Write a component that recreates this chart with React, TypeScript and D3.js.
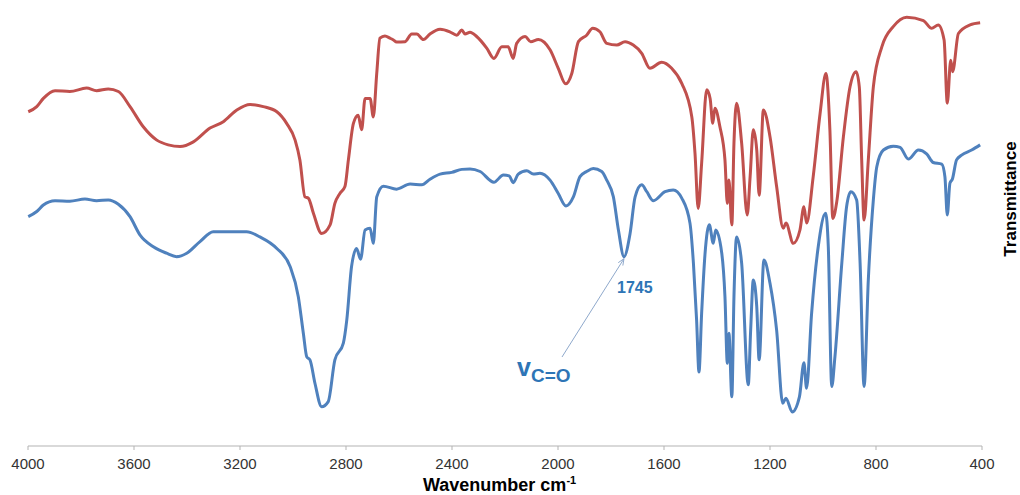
import React from "react";
import * as d3 from "d3";

const redWn = [3999,3967,3942,3898,3842,3779,3741,3697,3659,3615,3565,3514,3471,3426,3376,3313,3263,3212,3162,3112,3061,3024,2992,2974,2955,2942,2923,2892,2860,2842,2823,2804,2791,2772,2754,2741,2728,2709,2697,2684,2672,2653,2634,2621,2609,2577,2552,2533,2508,2483,2445,2408,2382,2363,2351,2332,2307,2269,2242,2212,2188,2169,2156,2124,2103,2074,2030,1999,1971,1948,1923,1892,1869,1842,1816,1778,1747,1716,1684,1653,1609,1571,1533,1495,1483,1471,1458,1439,1426,1416,1408,1389,1370,1361,1355,1344,1336,1326,1307,1286,1275,1263,1250,1241,1225,1200,1175,1150,1140,1112,1087,1072,1062,1037,1011,989,974,963,948,923,898,875,863,854,845,829,810,778,735,684,621,590,565,543,531,518,511,489,445,407];
const redT = [77.5,78.7,80.6,82.4,82.2,83.0,82.4,82.8,82.2,78.7,74.0,70.9,69.8,69.4,70.5,73.7,75.2,77.9,79.2,78.7,77.5,74.8,70.9,66.3,57.7,57.4,53.9,49.2,51.2,56.2,58.5,60.1,66.3,74.8,76.7,73.3,80.6,80.6,76.3,86.4,94.6,95.1,94.6,94.2,93.7,93.8,95.6,95.6,94.3,95.6,96.7,96.1,95.3,96.5,95.6,96.0,95.0,92.3,89.9,92.6,92.6,89.9,93.4,95.0,93.8,94.3,91.9,87.6,84.0,86.4,93.8,95.3,96.9,96.1,93.4,93.0,93.8,93.0,91.1,87.6,89.0,87.6,84.1,76.3,67.8,55.0,65.5,82.6,80.6,74.8,78.3,74.0,66.3,56.2,61.6,51.2,70.2,79.5,70.2,53.5,62.4,73.3,68.6,58.1,77.9,71.7,60.1,50.4,51.6,46.9,50.0,55.4,51.6,62.4,77.1,86.4,73.3,52.7,56.6,71.7,83.3,86.8,83.3,66.3,52.3,66.3,83.3,92.6,97.3,99.5,98.7,96.9,97.7,94.2,79.5,89.5,86.8,95.7,97.7,98.2];

const blueWn = [3999,3967,3942,3898,3842,3785,3741,3697,3659,3615,3577,3527,3477,3439,3401,3351,3301,3250,3175,3125,3061,3011,2980,2961,2948,2936,2917,2892,2867,2842,2810,2797,2779,2760,2745,2728,2709,2697,2684,2659,2609,2558,2514,2483,2445,2401,2363,2332,2294,2242,2206,2184,2169,2150,2118,2093,2068,2030,1999,1970,1942,1917,1892,1867,1835,1816,1791,1772,1751,1728,1709,1684,1665,1640,1596,1565,1533,1502,1489,1477,1468,1458,1445,1429,1414,1405,1382,1370,1361,1355,1344,1336,1326,1307,1282,1273,1263,1250,1241,1223,1200,1175,1152,1140,1116,1089,1072,1062,1043,1018,990,980,967,955,929,911,895,873,860,845,829,810,797,772,735,709,678,640,609,584,552,540,531,521,512,496,477,439,407];
const blueT = [53.1,54.3,55.8,56.8,56.7,57.2,56.8,57.0,56.0,53.1,48.8,46.1,44.6,43.8,44.6,47.3,49.6,49.6,49.6,48.4,45.7,41.5,34.5,26.0,20.5,19.8,14.3,8.9,10.1,19.8,23.7,29.1,41.5,45.7,43.2,50.0,50.4,46.9,57.7,60.2,59.5,60.7,60.5,61.8,63.0,63.4,64.1,64.2,63.6,61.1,62.8,62.6,61.0,63.0,63.8,63.0,63.2,61.6,58.5,55.6,57.7,62.4,63.6,64.3,63.6,61.6,57.7,50.0,43.8,49.2,57.7,60.5,58.9,56.8,58.9,59.3,57.4,51.6,42.3,29.1,17.0,30.6,44.6,51.2,46.9,50.0,44.6,34.5,19.0,26.0,11.2,34.5,48.4,42.3,14.0,26.7,38.4,32.2,19.8,43.0,37.6,26.7,9.7,10.9,7.7,11.2,19.1,13.2,30.6,46.1,53.9,46.1,13.6,20.5,42.3,55.4,58.9,57.0,42.3,13.6,38.4,57.0,64.7,68.6,69.5,69.2,66.5,68.6,67.7,65.7,65.3,62.4,53.5,60.9,61.8,66.3,67.4,68.6,69.8];

const xTicks = [4000, 3600, 3200, 2800, 2400, 2000, 1600, 1200, 800, 400];

const W = 1020;
const H = 495;
const FONT = "'Liberation Sans', Arial, sans-serif";

export default function App() {
  const x = d3.scaleLinear().domain([4000, 400]).range([28, 982]);
  const y = d3.scaleLinear().domain([0, 100]).range([445, 15]);
  const line = d3
    .line<[number, number]>()
    .x((d) => x(d[0]))
    .y((d) => y(d[1]))
    .curve(d3.curveMonotoneX);
  const redPts = redWn.map((w, i) => [w, redT[i]] as [number, number]);
  const bluePts = blueWn.map((w, i) => [w, blueT[i]] as [number, number]);
  const axisY = 446;

  // annotation anchor at 1745 peak
  const ax = x(1751);
  const ay = y(43.8) + 2;
  const sx = 562;
  const sy = 357;
  const ang = Math.atan2(ay - sy, ax - sx);
  const ah = 7;
  const a1 = [ax - ah * Math.cos(ang - 0.4), ay - ah * Math.sin(ang - 0.4)];
  const a2 = [ax - ah * Math.cos(ang + 0.4), ay - ah * Math.sin(ang + 0.4)];

  return (
    <svg
      width={W}
      height={H}
      style={{ position: "absolute", left: 0, top: 0, background: "#fff" }}
      fontFamily={FONT}
    >
      <rect x={0} y={0} width={W} height={H} fill="#fff" />
      <line x1={x(4000)} x2={x(400)} y1={axisY} y2={axisY} stroke="#b3b3b3" strokeWidth={1} />
      {xTicks.map((t) => (
        <g key={t}>
          <line x1={x(t)} x2={x(t)} y1={axisY} y2={axisY + 4} stroke="#b3b3b3" strokeWidth={1} />
          <text x={x(t)} y={469} textAnchor="middle" fontSize={15} fill="#333">
            {t}
          </text>
        </g>
      ))}
      <text x={423} y={491} fontSize={18} fontWeight="bold" fill="#000">
        Wavenumber cm
        <tspan fontSize={11} dy={-7}>-1</tspan>
      </text>
      <text
        transform={`translate(1016, 199) rotate(-90)`}
        textAnchor="middle"
        fontSize={17}
        fontWeight="bold"
        fill="#000"
      >
        Transmittance
      </text>
      <path d={line(redPts) || ""} fill="none" stroke="#c0504d" strokeWidth={3} strokeLinejoin="round" />
      <path d={line(bluePts) || ""} fill="none" stroke="#4f81bd" strokeWidth={3} strokeLinejoin="round" />
      <line x1={sx} y1={sy} x2={ax} y2={ay} stroke="#8fa9cc" strokeWidth={1} />
      <polyline
        points={`${a1[0]},${a1[1]} ${ax},${ay} ${a2[0]},${a2[1]}`}
        fill="none"
        stroke="#8fa9cc"
        strokeWidth={1}
      />
      <text x={617} y={293} fontSize={16} fontWeight="bold" fill="#2e75b6">
        1745
      </text>
      <text x={517} y={376} fontSize={25} fontWeight="bold" fill="#2e75b6">
        v
        <tspan fontSize={19} dy={6}>C=O</tspan>
      </text>
    </svg>
  );
}
